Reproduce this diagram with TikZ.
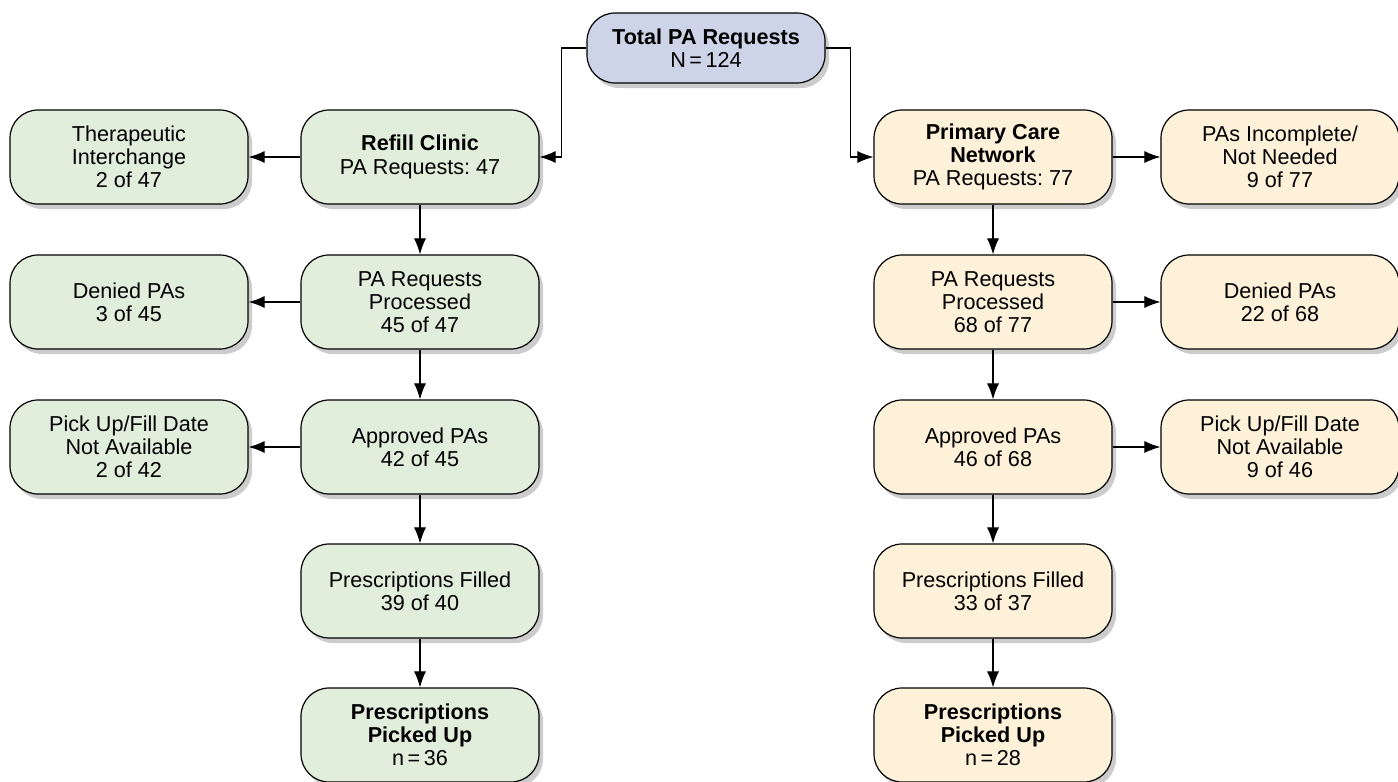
\documentclass[tikz,border=0pt]{standalone}
\usepackage{fontspec}
\setmainfont{Liberation Sans}
\frenchspacing
\usetikzlibrary{arrows.meta,positioning,shadows}

\definecolor{clinicgreen}{HTML}{E2EEDC}
\definecolor{networktan}{HTML}{FDF1D9}
\definecolor{totalblue}{HTML}{CDD4E8}

\tikzset{
	flowbox/.style={draw,line width=0.6pt,rounded corners=14pt,minimum width=119pt,minimum height=47pt,
		align=center,font=\fontsize{10.8}{11.6}\selectfont,
		drop shadow={opacity=0.4,shadow xshift=2pt,shadow yshift=-2.5pt}},
	clinic/.style={flowbox,fill=clinicgreen},
	network/.style={flowbox,fill=networktan},
	total/.style={flowbox,fill=totalblue,minimum height=35pt},
	flowarrow/.style={-{Latex[length=8pt,width=6pt]},line width=0.55pt},
}

\begin{document}
\begin{tikzpicture}[x=0.5pt,y=-0.5pt]
		\useasboundingbox (0,0) rectangle (1398,782);
		% top
		\node[total] (total) at (706,48) {\textbf{Total PA Requests}\\N\,=\,124};
		% refill clinic side
		\node[clinic] (refill) at (420,157) {\textbf{Refill Clinic}\\PA Requests: 47};
		\node[clinic] (therapeutic) at (129,157) {Therapeutic\\Interchange\\2 of 47};
		\node[clinic] (refillproc) at (420,302) {PA Requests\\Processed\\45 of 47};
		\node[clinic] (refilldenied) at (129,302) {Denied PAs\\3 of 45};
		\node[clinic] (refillappr) at (420,447) {Approved PAs\\42 of 45};
		\node[clinic] (refillnodate) at (129,447) {Pick Up/Fill Date\\Not Available\\2 of 42};
		\node[clinic] (refillfilled) at (420,591) {Prescriptions Filled\\39 of 40};
		\node[clinic] (refillpicked) at (420,735) {\textbf{Prescriptions}\\\textbf{Picked Up}\\n\,=\,36};
		% primary care side
		\node[network] (primary) at (993,157) {\textbf{Primary Care}\\\textbf{Network}\\PA Requests: 77};
		\node[network] (incomplete) at (1280,157) {PAs Incomplete/\\Not Needed\\9 of 77};
		\node[network] (primproc) at (993,302) {PA Requests\\Processed\\68 of 77};
		\node[network] (primdenied) at (1280,302) {Denied PAs\\22 of 68};
		\node[network] (primappr) at (993,447) {Approved PAs\\46 of 68};
		\node[network] (primnodate) at (1280,447) {Pick Up/Fill Date\\Not Available\\9 of 46};
		\node[network] (primfilled) at (993,591) {Prescriptions Filled\\33 of 37};
		\node[network] (primpicked) at (993,735) {\textbf{Prescriptions}\\\textbf{Picked Up}\\n\,=\,28};
		% connectors
		\draw[flowarrow] (total.west) -- ++(-25,0) |- (refill.east);
		\draw[flowarrow] (total.east) -- ++(25,0) |- (primary.west);
		\draw[flowarrow] (refill) -- (therapeutic);
		\draw[flowarrow] (refill) -- (refillproc);
		\draw[flowarrow] (refillproc) -- (refilldenied);
		\draw[flowarrow] (refillproc) -- (refillappr);
		\draw[flowarrow] (refillappr) -- (refillnodate);
		\draw[flowarrow] (refillappr) -- (refillfilled);
		\draw[flowarrow] (refillfilled) -- (refillpicked);
		\draw[flowarrow] (primary) -- (incomplete);
		\draw[flowarrow] (primary) -- (primproc);
		\draw[flowarrow] (primproc) -- (primdenied);
		\draw[flowarrow] (primproc) -- (primappr);
		\draw[flowarrow] (primappr) -- (primnodate);
		\draw[flowarrow] (primappr) -- (primfilled);
		\draw[flowarrow] (primfilled) -- (primpicked);
\end{tikzpicture}
\end{document}
